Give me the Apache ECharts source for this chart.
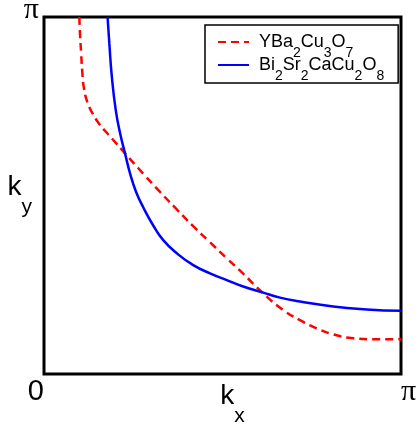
<!DOCTYPE html>
<html>
<head>
<meta charset="utf-8">
<script src="https://cdn.jsdelivr.net/npm/echarts@6/dist/echarts.min.js"></script>
<style>html,body{margin:0;padding:0;background:#fff}#c{width:419px;height:430px}</style>
</head>
<body>
<div id="c"></div>
<script>
// k values in units of pi
const ybcoKx = [0.099, 0.101, 0.104, 0.107, 0.112, 0.122, 0.136, 0.155, 0.172, 0.190, 0.227, 0.278, 0.325, 0.372, 0.418, 0.465, 0.512, 0.558, 0.614, 0.670, 0.717, 0.764, 0.810, 0.866, 0.932, 1.000];
const ybcoKy = [1.000, 0.950, 0.900, 0.850, 0.800, 0.760, 0.730, 0.700, 0.680, 0.660, 0.618, 0.561, 0.510, 0.461, 0.414, 0.369, 0.324, 0.281, 0.226, 0.179, 0.151, 0.128, 0.111, 0.100, 0.097, 0.097];
const bsccoKx = [0.178, 0.183, 0.190, 0.201, 0.213, 0.227, 0.241, 0.258, 0.280, 0.306, 0.334, 0.372, 0.418, 0.465, 0.512, 0.558, 0.614, 0.661, 0.717, 0.810, 0.904, 1.000];
const bsccoKy = [1.000, 0.926, 0.833, 0.739, 0.675, 0.618, 0.562, 0.510, 0.463, 0.416, 0.375, 0.338, 0.305, 0.282, 0.263, 0.245, 0.228, 0.214, 0.203, 0.189, 0.181, 0.177];
const seriesNames = ['YBa2Cu3O7', 'Bi2Sr2CaCu2O8'];
const tickLabels = ['0', 'π'];

const zip = (xs, ys) => xs.map((x, i) => [x, ys[i]]);
const chemRich = name => name.match(/\d+|\D+/g).map(t => /\d/.test(t) ? '{s|' + t + '}' : '{n|' + t + '}').join('');

const chart = echarts.init(document.getElementById('c'));
chart.setOption({
  animation: false,
  backgroundColor: '#fff',
  grid: { left: 44, top: 17, width: 357, height: 357, containLabel: false, outerBoundsMode: 'none',
          show: true, borderColor: '#000', borderWidth: 3, backgroundColor: 'transparent' },
  legend: {
    orient: 'vertical', left: 205, top: 25,
    padding: [8, 14, 0, 12],
    itemGap: -4, itemWidth: 31, itemHeight: 14,
    borderColor: '#000', borderWidth: 1.5, backgroundColor: '#fff',
    itemStyle: { opacity: 0 },
    data: seriesNames,
    formatter: chemRich,
    textStyle: {
      padding: [0, 0, 0, 5],
      rich: {
        n: { fontFamily: 'Liberation Sans', fontSize: 18, lineHeight: 36, color: '#000' },
        s: { fontFamily: 'Liberation Sans', fontSize: 14, lineHeight: 2, verticalAlign: 'bottom', color: '#000' }
      }
    }
  },
  xAxis: {
    type: 'value', min: 0, max: 1, interval: 1,
    axisLine: { show: false }, axisTick: { show: false }, splitLine: { show: false },
    axisLabel: {
      margin: 0, padding: [3, 0, 0, 0], alignMinLabel: 'right', alignMaxLabel: 'left',
      formatter: v => v === 0 ? '{z|' + tickLabels[0] + '}' : '{p|' + tickLabels[1] + '}',
      rich: {
        z: { fontFamily: 'Liberation Sans', fontSize: 29, color: '#000' },
        p: { fontFamily: 'Liberation Serif', fontSize: 30, color: '#000' }
      }
    },
    name: '{k|k}{s|x}', nameLocation: 'middle', nameGap: -9, nameMoveOverlap: false,
    nameTextStyle: {
      padding: [0, 0, 0, 20],
      rich: {
        k: { fontFamily: 'Liberation Sans', fontSize: 28, lineHeight: 62, color: '#000' },
        s: { fontFamily: 'Liberation Sans', fontSize: 21, lineHeight: 2, verticalAlign: 'bottom', color: '#000' }
      }
    }
  },
  yAxis: {
    type: 'value', min: 0, max: 1, interval: 1,
    axisLine: { show: false }, axisTick: { show: false }, splitLine: { show: false },
    axisLabel: {
      margin: 5, showMinLabel: false, padding: [0, 0, 13, 0],
      formatter: v => v === 1 ? '{p|' + tickLabels[1] + '}' : '',
      rich: { p: { fontFamily: 'Liberation Serif', fontSize: 30, color: '#000' } }
    },
    name: '{k|k}{s|y}', nameLocation: 'middle', nameGap: 12, nameRotate: 0, nameMoveOverlap: false,
    nameTextStyle: {
      padding: [0, 0, 17, 0],
      rich: {
        k: { fontFamily: 'Liberation Sans', fontSize: 28, lineHeight: 62, color: '#000' },
        s: { fontFamily: 'Liberation Sans', fontSize: 21, lineHeight: 2, verticalAlign: 'bottom', color: '#000' }
      }
    }
  },
  series: [
    {
      name: seriesNames[0], type: 'line', smooth: 0.5, symbol: 'none', clip: true,
      data: zip(ybcoKx, ybcoKy),
      lineStyle: { color: '#ff0000', width: 2.5, type: [8, 5] },
      itemStyle: { color: '#ff0000' }
    },
    {
      name: seriesNames[1], type: 'line', smooth: 0.5, symbol: 'none', clip: true,
      data: zip(bsccoKx, bsccoKy),
      lineStyle: { color: '#0000ff', width: 2.5 },
      itemStyle: { color: '#0000ff' }
    }
  ]
});
</script>
</body>
</html>
